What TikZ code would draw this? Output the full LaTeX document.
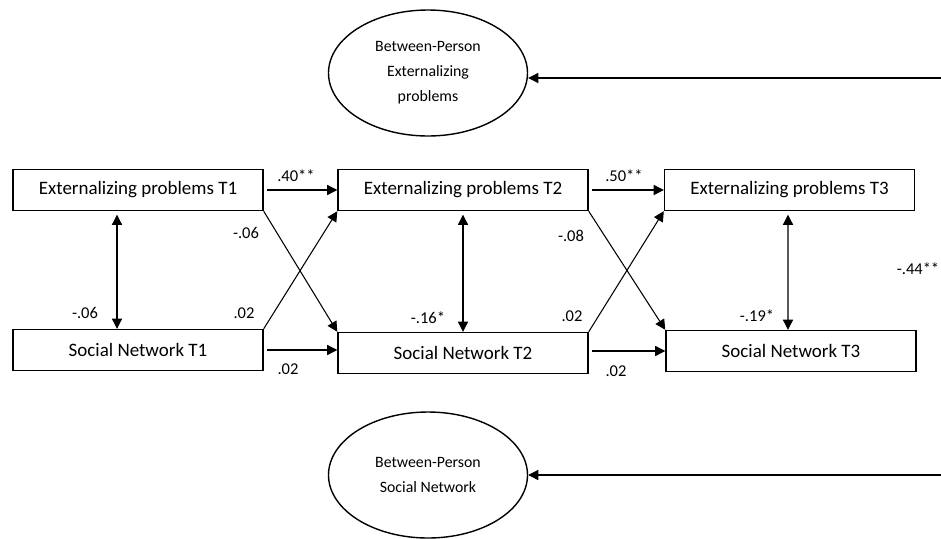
\documentclass[tikz,border=0pt]{standalone}
\usepackage{fontspec}
\setmainfont{Carlito}
\usetikzlibrary{arrows.meta,shapes.geometric}
\tikzset{
  obsbox/.style={draw, line width=0.8pt, minimum width=5cm, minimum height=0.82cm, inner sep=0pt, font=\fontsize{10.8}{13}\selectfont},
  latent/.style={draw, line width=0.8pt, ellipse, minimum width=3.98cm, minimum height=2.52cm, inner sep=0pt, align=center, font=\fontsize{9}{14.2}\selectfont},
  coef/.style={inner sep=0pt, font=\fontsize{9.4}{11}\selectfont},
  path/.style={line width=0.6pt}
}
\begin{document}
\begin{tikzpicture}[>={Triangle[length=5.8pt,width=5.8pt]}]
\useasboundingbox (0, 0) rectangle (18.82, -10.76);
% latent factors
\node[latent] (BPext) at (8.56, -1.46) {Between-Person\\Externalizing\\problems};
\node[latent] (BPsoc) at (8.56, -9.5) {Between-Person\\Social Network};
\coordinate (rtop) at (18.82, -1.56);
\coordinate (rbot) at (18.82, -9.5);
% observed
\node[obsbox] (EP1) at (2.76, -3.8) {Externalizing problems T1};
\node[obsbox] (SN1) at (2.76, -7.0) {Social Network T1};
\node[obsbox] (EP2) at (9.26, -3.8) {Externalizing problems T2};
\node[obsbox] (SN2) at (9.26, -7.06) {Social Network T2};
\node[obsbox] (EP3) at (15.79, -3.8) {Externalizing problems T3};
\node[obsbox] (SN3) at (15.82, -7.02) {Social Network T3};
% paths
\draw[path][->] (rtop) -- (BPext.east |- rtop);
\draw[path][->] (rbot) -- (BPsoc.east |- rbot);
\draw[path][->] ([xshift=2pt]EP1.east) -- (EP2.west);
\draw[path][->] ([xshift=2pt]EP2.east) -- (EP3.west);
\draw[path][->] ([xshift=2pt]SN1.east) -- (SN2.west |- SN1.east);
\draw[path][->] ([xshift=2pt]SN2.east |- SN3.west) -- (SN3.west);
\draw[path][->] (EP1.south east) -- (SN2.north west);
\draw[path][->] (SN1.north east) -- (EP2.south west);
\draw[path][->] (EP2.south east) -- (SN3.north west);
\draw[path][->] (SN2.north east) -- (EP3.south west);
\draw[path][<->] ([xshift=-0.42cm,yshift=-2pt]EP1.south) -- ([xshift=-0.42cm]SN1.north);
\draw[path][<->] ([yshift=-2pt]EP2.south) -- (SN2.north);
\draw[path][<->] ([xshift=-0.03cm,yshift=-2pt]EP3.south) -- ([xshift=-0.06cm]SN3.north);
% coefficients
\node[coef] (c1) at (5.92, -3.52) {.40**};
\node[coef] (c2) at (4.92, -4.66) {-.06};
\node[coef] (c3) at (1.70, -6.26) {-.06};
\node[coef] (c4) at (4.88, -6.26) {.02};
\node[coef] (c5) at (5.76, -7.38) {.02};
\node[coef] (c6) at (8.56, -6.36) {-.16*};
\node[coef] (c7) at (12.48, -3.52) {.50**};
\node[coef] (c8) at (11.42, -4.72) {-.08};
\node[coef] (c9) at (11.44, -6.32) {.02};
\node[coef] (c10) at (12.32, -7.42) {.02};
\node[coef] (c11) at (15.14, -6.32) {-.19*};
\node[coef] (c12) at (18.36, -5.38) {-.44**};
\end{tikzpicture}
\end{document}
